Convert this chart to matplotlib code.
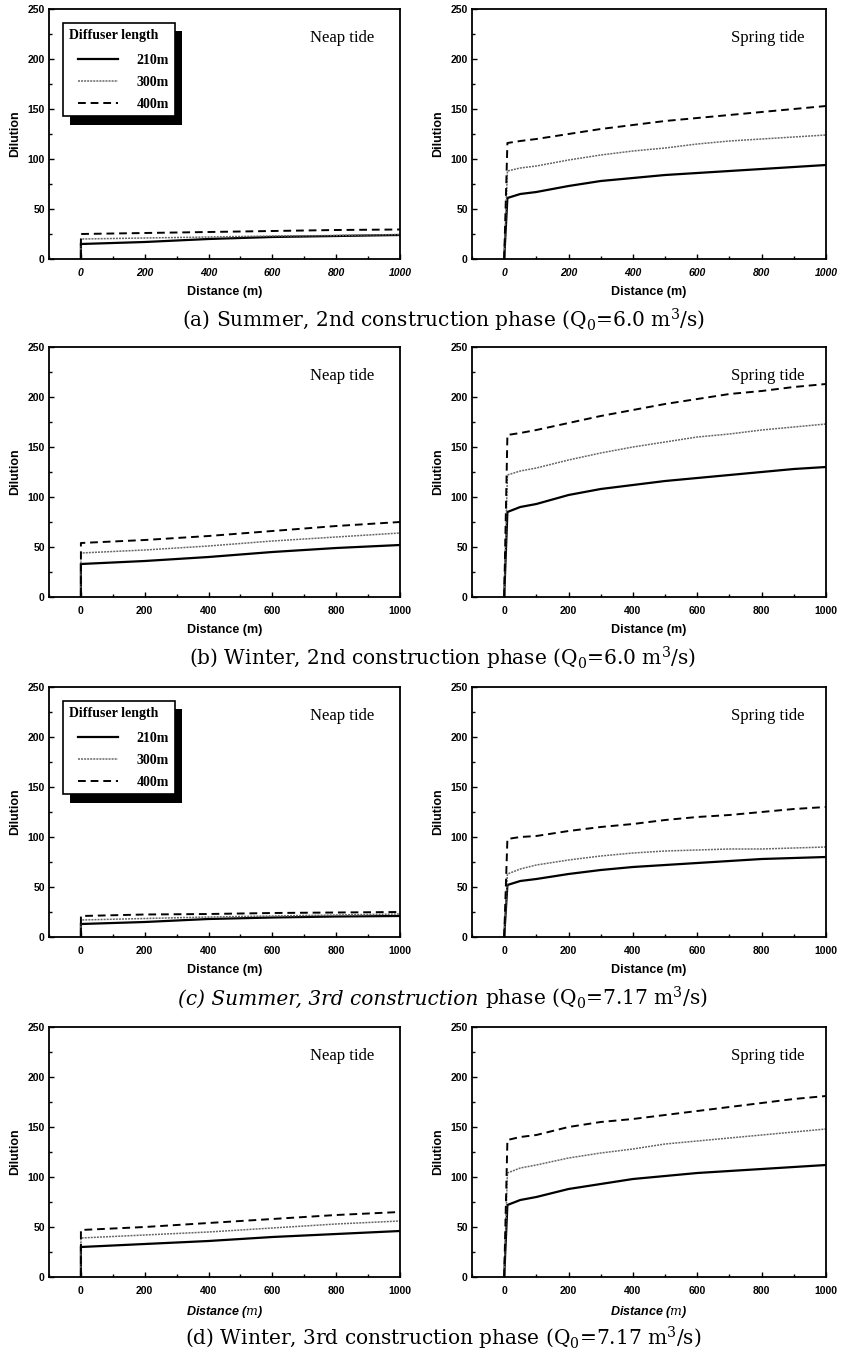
import matplotlib
matplotlib.use("Agg")
import matplotlib.pyplot as plt
from matplotlib import font_manager as fm
from matplotlib.ticker import MultipleLocator
import matplotlib.patheffects as pe

names = {f.name for f in fm.fontManager.ttflist}
SANS = 'Liberation Sans Narrow' if 'Liberation Sans Narrow' in names else 'Liberation Sans'
SERIF = 'Liberation Serif'
CAPF = 'DejaVu Serif'
plt.rcParams['mathtext.fontset'] = 'dejavuserif'

# ---------------- data ----------------
labels = ['210m', '300m', '400m']

neap_x = [0, 0, 200, 400, 600, 800, 1000]
spring_x = [0, 10, 50, 100, 200, 300, 400, 500, 600, 700, 800, 900, 1000]

# (a) Summer, 2nd phase
a_neap_210 = [0, 15, 17, 20, 22, 23, 24]
a_neap_300 = [0, 20, 21, 22, 23, 23.5, 24.5]
a_neap_400 = [0, 25, 26, 27, 28, 29, 29.5]
a_spr_210 = [0, 61, 65, 67, 73, 78, 81, 84, 86, 88, 90, 92, 94]
a_spr_300 = [0, 88, 91, 93, 99, 104, 108, 111, 115, 118, 120, 122, 124]
a_spr_400 = [0, 116, 118, 120, 125, 130, 134, 138, 141, 144, 147, 150, 153]

# (b) Winter, 2nd phase
b_neap_210 = [0, 33, 36, 40, 45, 49, 52]
b_neap_300 = [0, 44, 47, 51, 56, 60, 64]
b_neap_400 = [0, 54, 57, 61, 66, 71, 75]
b_spr_210 = [0, 85, 90, 93, 102, 108, 112, 116, 119, 122, 125, 128, 130]
b_spr_300 = [0, 122, 126, 129, 137, 144, 150, 155, 160, 163, 167, 170, 173]
b_spr_400 = [0, 162, 164, 167, 174, 181, 187, 193, 198, 203, 206, 210, 213]

# (c) Summer, 3rd phase
c_neap_210 = [0, 13, 15, 18, 19.5, 20.5, 21]
c_neap_300 = [0, 17, 18.5, 20, 21, 22, 23]
c_neap_400 = [0, 21, 22.5, 23, 24, 24.5, 25]
c_spr_210 = [0, 52, 56, 58, 63, 67, 70, 72, 74, 76, 78, 79, 80]
c_spr_300 = [0, 63, 68, 72, 77, 81, 84, 86, 87, 88, 88, 89, 90]
c_spr_400 = [0, 98, 100, 101, 106, 110, 113, 117, 120, 122, 125, 128, 130]

# (d) Winter, 3rd phase
d_neap_210 = [0, 30, 33, 36, 40, 43, 46]
d_neap_300 = [0, 39, 42, 45, 49, 53, 56]
d_neap_400 = [0, 47, 50, 54, 58, 62, 65]
d_spr_210 = [0, 72, 77, 80, 88, 93, 98, 101, 104, 106, 108, 110, 112]
d_spr_300 = [0, 104, 109, 112, 119, 124, 128, 133, 136, 139, 142, 145, 148]
d_spr_400 = [0, 137, 140, 142, 150, 155, 158, 162, 166, 170, 174, 178, 181]

# caption = (italic part, upright part)
captions = [
    ('', r'(a) Summer, 2nd construction phase (Q$_0$=6.0 m$^3$/s)'),
    ('', r'(b) Winter, 2nd construction phase (Q$_0$=6.0 m$^3$/s)'),
    ('(c) Summer, 3rd construction ', r'phase (Q$_0$=7.17 m$^3$/s)'),
    ('', r'(d) Winter, 3rd construction phase (Q$_0$=7.17 m$^3$/s)'),
]

rows = [
    ((a_neap_210, a_neap_300, a_neap_400), (a_spr_210, a_spr_300, a_spr_400)),
    ((b_neap_210, b_neap_300, b_neap_400), (b_spr_210, b_spr_300, b_spr_400)),
    ((c_neap_210, c_neap_300, c_neap_400), (c_spr_210, c_spr_300, c_spr_400)),
    ((d_neap_210, d_neap_300, d_neap_400), (d_spr_210, d_spr_300, d_spr_400)),
]
legend_rows = [0, 2]

# ---------------- styles ----------------
styles = [
    dict(color='black', lw=1.6, ls='-'),
    dict(color='0.4', lw=1.1, ls=(0, (1.3, 0.7))),
    dict(color='black', lw=1.4, ls=(0, (4, 2.5))),
]

W, H = 843, 1359
fig = plt.figure(figsize=(W / 100, H / 100), dpi=100)

row_tops = [9, 347, 687, 1027]
ax_h = 250
lefts = [(49, 351), (472, 354)]

cap_pairs = []
for r, (neap, spring) in enumerate(rows):
    top = row_tops[r]
    for c, (series, xs, title) in enumerate([(neap, neap_x, 'Neap tide'),
                                            (spring, spring_x, 'Spring tide')]):
        x0, w = lefts[c]
        ax = fig.add_axes([x0 / W, (H - top - ax_h) / H, w / W, ax_h / H])
        handles = []
        for ys, st, lab in zip(series, styles, labels):
            h, = ax.plot(xs, ys, color=st['color'], lw=st['lw'], ls=st['ls'],
                         label=lab, solid_joinstyle='miter')
            handles.append(h)
        ax.set_xlim(-100, 1000)
        ax.set_ylim(0, 250)
        ax.xaxis.set_major_locator(MultipleLocator(200))
        ax.xaxis.set_minor_locator(MultipleLocator(100))
        ax.yaxis.set_major_locator(MultipleLocator(50))
        ax.yaxis.set_minor_locator(MultipleLocator(25))
        ax.tick_params(which='both', direction='in', width=1.0, top=False, right=False)
        ax.tick_params(which='major', length=3.5)
        ax.tick_params(axis='x', which='major', pad=6.5)
        ax.tick_params(axis='y', which='major', pad=3)
        ax.tick_params(which='minor', length=2)
        for sp in ax.spines.values():
            sp.set_linewidth(1.3)
        for lab in ax.get_xticklabels():
            lab.set_fontfamily(SANS)
            lab.set_fontweight('bold')
            lab.set_fontsize(7.5)
            if r == 0:
                lab.set_fontstyle('italic')
        for lab in ax.get_yticklabels():
            lab.set_fontfamily(SANS)
            lab.set_fontweight('bold')
            lab.set_fontsize(7.5)
        if r == 3:
            ax.set_xlabel('Distance ($\\mathit{m}$)', family=SANS, weight='bold',
                          size=9, style='italic', labelpad=6)
        else:
            ax.set_xlabel('Distance (m)', family=SANS, weight='bold', size=9, labelpad=6)
        ax.set_ylabel('Dilution', family=SANS, weight='bold', size=9, labelpad=5)
        ax.text(0.836, 0.885, title, transform=ax.transAxes, ha='center', va='center',
                family=SERIF, size=12)
        if c == 0 and r in legend_rows:
            leg = ax.legend(handles=handles, labels=labels,
                            title='Diffuser length   ',
                            loc='upper left', bbox_to_anchor=(0.04, 0.944),
                            borderaxespad=0, fancybox=False, frameon=True,
                            prop=dict(family=SERIF, weight='bold', size=10),
                            title_fontproperties=dict(family=SERIF, weight='bold', size=10),
                            handlelength=2.9, handletextpad=1.3, labelspacing=0.62,
                            borderpad=0.42, alignment='right')
            try:
                leg._legend_box.sep = 9
            except Exception:
                pass
            fr = leg.get_frame()
            fr.set_edgecolor('black')
            fr.set_linewidth(1.2)
            fr.set_alpha(1)
            fr.set_path_effects([pe.SimplePatchShadow(offset=(5, -6), shadow_rgbFace='black',
                                                      alpha=1.0), pe.Normal()])

    cap_y = (H - (top + 313)) / H
    ital, upr = captions[r]
    t1 = fig.text(0, cap_y, ital, ha='left', va='baseline', family=CAPF, size=14.5,
                  style='italic')
    t2 = fig.text(0, cap_y, upr, ha='left', va='baseline', family=CAPF, size=14.5)
    cap_pairs.append((t1, t2))

# center each caption (italic + upright parts) at x = 443 px
fig.canvas.draw()
rend = fig.canvas.get_renderer()
for t1, t2 in cap_pairs:
    w1 = t1.get_window_extent(rend).width if t1.get_text() else 0.0
    w2 = t2.get_window_extent(rend).width
    start = 443 - (w1 + w2) / 2
    y = t1.get_position()[1]
    t1.set_position((start / W, y - 5.0 / H))
    t2.set_position(((start + w1) / W, y - 5.0 / H))

fig.savefig('out.png', dpi=100)
